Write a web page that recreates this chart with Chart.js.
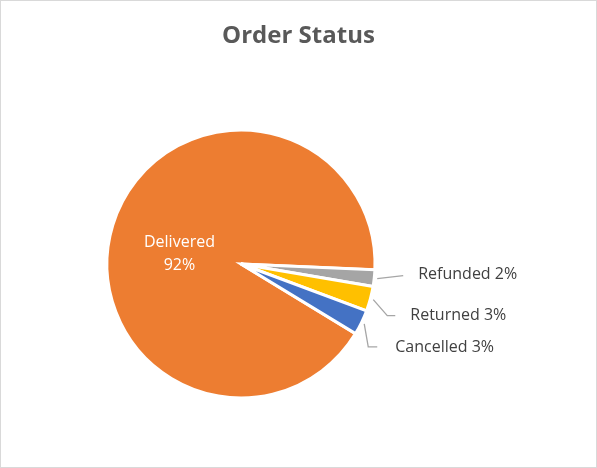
<!DOCTYPE html>
<html>
<head>
<meta charset="utf-8">
<script src="https://cdn.jsdelivr.net/npm/chart.js@4.4.0/dist/chart.umd.min.js"></script>
<style>
html,body{margin:0;padding:0;background:#fff;}
#wrap{position:absolute;left:0;top:0;width:595px;height:466px;border:1px solid #D9D9D9;background:#fff;}
canvas{display:block;}
</style>
</head>
<body>
<div id="wrap"><canvas id="c" width="595" height="466"></canvas></div>
<script>
const categories = ["Delivered", "Refunded", "Returned", "Cancelled"];
const values = [92, 2, 3, 3];
const percentLabels = ["92%", "2%", "3%", "3%"];
const colors = ["#ED7D31", "#A5A5A5", "#FFC000", "#4472C4"];
const titleText = "Order Status";

// leader-line layout for outside labels (offsets from anchor just outside the arc)
const leaderLayout = {
  1: {pts: [[26, -3]], text: [41, -4]},
  2: {pts: [[14, 16], [22, 16]], text: [37, 16]},
  3: {pts: [[4, 23], [13, 23]], text: [31, 24]}
};

const labelPlugin = {
  id: 'pieLabels',
  afterDatasetsDraw(chart) {
    const ctx = chart.ctx;
    const meta = chart.getDatasetMeta(0);
    ctx.save();
    // title centred on the whole canvas
    ctx.fillStyle = '#595959';
    ctx.font = 'bold 24px "Open Sans", sans-serif';
    ctx.textAlign = 'center';
    ctx.textBaseline = 'middle';
    ctx.fillText(titleText, chart.width / 2, 35);

    meta.data.forEach((arc, i) => {
      const p = arc.getProps(['x', 'y', 'startAngle', 'endAngle', 'outerRadius'], true);
      const mid = (p.startAngle + p.endAngle) / 2;
      ctx.font = '16px "Open Sans", sans-serif';
      ctx.textBaseline = 'middle';
      if (i === 0) {
        const r = p.outerRadius * 0.48;
        const tx = p.x + Math.cos(mid) * r;
        const ty = p.y + Math.sin(mid) * r + 8;
        ctx.fillStyle = '#FFFFFF';
        ctx.textAlign = 'center';
        ctx.fillText(categories[i], tx, ty - 11);
        ctx.fillText(percentLabels[i], tx, ty + 12);
      } else {
        const r = p.outerRadius + 3;
        const ax = p.x + Math.cos(mid) * r;
        const ay = p.y + Math.sin(mid) * r;
        const lay = leaderLayout[i];
        ctx.strokeStyle = '#A6A6A6';
        ctx.lineWidth = 1.3;
        ctx.beginPath();
        ctx.moveTo(ax, ay);
        lay.pts.forEach(pt => ctx.lineTo(ax + pt[0], ay + pt[1]));
        ctx.stroke();
        ctx.fillStyle = '#404040';
        ctx.textAlign = 'left';
        ctx.fillText(categories[i] + ' ' + percentLabels[i], ax + lay.text[0], ay + lay.text[1]);
      }
    });
    ctx.restore();
  }
};

new Chart(document.getElementById('c'), {
  type: 'pie',
  data: {
    labels: categories,
    datasets: [{
      data: values,
      backgroundColor: colors,
      borderColor: '#FFFFFF',
      borderWidth: 3,
      borderJoinStyle: 'miter'
    }]
  },
  options: {
    responsive: false,
    animation: false,
    rotation: 121.3,
    layout: {padding: {left: 104.5, right: 219.5, top: 127.5, bottom: 67.5}},
    plugins: {
      legend: {display: false},
      tooltip: {enabled: false},
      title: {display: false}
    }
  },
  plugins: [labelPlugin]
});
</script>
</body>
</html>
